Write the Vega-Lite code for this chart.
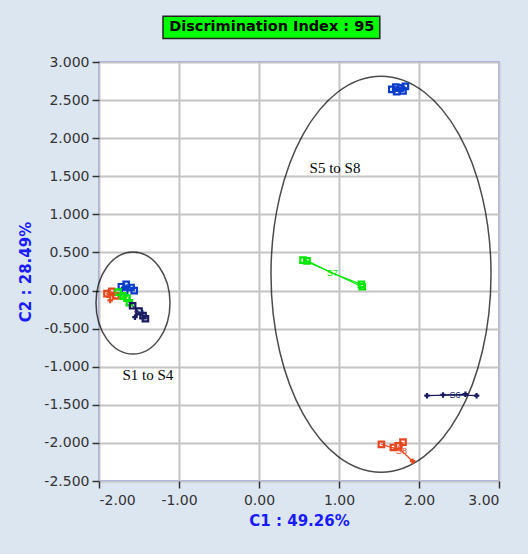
{
  "$schema": "https://vega.github.io/schema/vega-lite/v6.json",
  "width": 400,
  "height": 419,
  "autosize": {"type": "none"},
  "padding": {"left": 99, "top": 62, "right": 29, "bottom": 73},
  "background": "#dce6f1",
  "config": {
    "view": {"fill": "white", "stroke": "#8585ff", "strokeWidth": 1.5},
    "axis": {
      "grid": true, "gridColor": "#c4c4c4", "gridWidth": 2,
      "domain": false, "tickColor": "#333333", "tickSize": 7, "tickWidth": 1.5,
      "labelFont": "DejaVu Sans", "labelFontSize": 14, "labelColor": "#333333", "labelOverlap": false,
      "titleFont": "DejaVu Sans", "titleFontSize": 15, "titleFontWeight": "bold", "titleColor": "#1a1aff"
    }
  },
  "datasets": {
    "pts": [
      {"s": "S1", "x": -1.72, "y": 0.05, "m": "sq"},
      {"s": "S1", "x": -1.66, "y": 0.08, "m": "sq"},
      {"s": "S1", "x": -1.6, "y": 0.04, "m": "sq"},
      {"s": "S1", "x": -1.56, "y": 0.0, "m": "sq"},
      {"s": "S1", "x": -1.68, "y": 0.0, "m": "sq"},
      {"s": "S2", "x": -1.9, "y": -0.04, "m": "sq"},
      {"s": "S2", "x": -1.84, "y": -0.01, "m": "sq"},
      {"s": "S2", "x": -1.79, "y": -0.07, "m": "sq"},
      {"s": "S2", "x": -1.86, "y": -0.13, "m": "plus"},
      {"s": "S3", "x": -1.76, "y": -0.02, "m": "sq"},
      {"s": "S3", "x": -1.7, "y": -0.07, "m": "sq"},
      {"s": "S3", "x": -1.65, "y": -0.1, "m": "sq"},
      {"s": "S3", "x": -1.62, "y": -0.16, "m": "sq"},
      {"s": "S4", "x": -1.58, "y": -0.2, "m": "sq"},
      {"s": "S4", "x": -1.5, "y": -0.27, "m": "sq"},
      {"s": "S4", "x": -1.45, "y": -0.33, "m": "sq"},
      {"s": "S4", "x": -1.42, "y": -0.37, "m": "sq"},
      {"s": "S4", "x": -1.55, "y": -0.35, "m": "plus"},
      {"s": "S5", "x": 1.66, "y": 2.64, "m": "sq"},
      {"s": "S5", "x": 1.71, "y": 2.67, "m": "sq"},
      {"s": "S5", "x": 1.77, "y": 2.66, "m": "sq"},
      {"s": "S5", "x": 1.83, "y": 2.68, "m": "sq"},
      {"s": "S5", "x": 1.72, "y": 2.61, "m": "sq"},
      {"s": "S5", "x": 1.8, "y": 2.62, "m": "sq"},
      {"s": "S6", "x": 2.1, "y": -1.38, "m": "plus"},
      {"s": "S6", "x": 2.3, "y": -1.37, "m": "plus"},
      {"s": "S6", "x": 2.58, "y": -1.36, "m": "plus"},
      {"s": "S6", "x": 2.72, "y": -1.38, "m": "plus"},
      {"s": "S7", "x": 0.55, "y": 0.4, "m": "sq"},
      {"s": "S7", "x": 0.6, "y": 0.39, "m": "sq"},
      {"s": "S7", "x": 1.28, "y": 0.08, "m": "sq"},
      {"s": "S7", "x": 1.29, "y": 0.05, "m": "sq"},
      {"s": "S8", "x": 1.53, "y": -2.02, "m": "sq"},
      {"s": "S8", "x": 1.68, "y": -2.06, "m": "sq"},
      {"s": "S8", "x": 1.74, "y": -2.04, "m": "sq"},
      {"s": "S8", "x": 1.8, "y": -1.99, "m": "sq"},
      {"s": "S8", "x": 1.92, "y": -2.24, "m": "plus"}
    ],
    "cen": [
      {"s": "S1", "cx": -1.65, "cy": 0.03},
      {"s": "S2", "cx": -1.85, "cy": -0.06},
      {"s": "S3", "cx": -1.69, "cy": -0.09},
      {"s": "S4", "cx": -1.5, "cy": -0.3},
      {"s": "S5", "cx": 1.75, "cy": 2.65},
      {"s": "S6", "cx": 2.45, "cy": -1.37},
      {"s": "S7", "cx": 0.92, "cy": 0.23},
      {"s": "S8", "cx": 1.78, "cy": -2.1}
    ]
  },
  "layer": [
    {
      "data": {"values": [{"x": -1.2, "x2": 1.51, "y": 3.6, "y2": 3.31}]},
      "mark": {"type": "rect", "fill": "#00ff00", "stroke": "#222222", "strokeWidth": 1.5},
      "encoding": {
        "x": {"field": "x", "type": "quantitative"},
        "x2": {"field": "x2"},
        "y": {"field": "y", "type": "quantitative"},
        "y2": {"field": "y2"}
      }
    },
    {
      "data": {"values": [{"t": "Discrimination Index : 95", "tx": 0.16, "ty": 3.455}]},
      "mark": {"type": "text", "font": "DejaVu Sans", "fontSize": 14.5, "fontWeight": "bold", "color": "black", "baseline": "middle"},
      "encoding": {
        "x": {"field": "tx", "type": "quantitative"},
        "y": {"field": "ty", "type": "quantitative"},
        "text": {"field": "t"}
      }
    },
    {
      "data": {"values": [{"x": -1.575, "y": -0.164}]},
      "mark": {"type": "point", "filled": false, "stroke": "black", "strokeWidth": 1.5, "size": 10404,
        "shape": "M0.7255,0C0.7255,0.5523,0.4007,1,0,1C-0.4007,1,-0.7255,0.5523,-0.7255,0C-0.7255,-0.5523,-0.4007,-1,0,-1C0.4007,-1,0.7255,-0.5523,0.7255,0Z"},
      "encoding": {
        "x": {"field": "x", "type": "quantitative"},
        "y": {"field": "y", "type": "quantitative"}
      }
    },
    {
      "data": {"values": [{"x": 1.525, "y": 0.215}]},
      "mark": {"type": "point", "filled": false, "stroke": "black", "strokeWidth": 1.5, "size": 156816,
        "shape": "M0.5556,0C0.5556,0.5523,0.3068,1,0,1C-0.3068,1,-0.5556,0.5523,-0.5556,0C-0.5556,-0.5523,-0.3068,-1,0,-1C0.3068,-1,0.5556,-0.5523,0.5556,0Z"},
      "encoding": {
        "x": {"field": "x", "type": "quantitative"},
        "y": {"field": "y", "type": "quantitative"}
      }
    },
    {
      "data": {"values": [{"t": "S5 to S8", "x": 0.95, "y": 1.61}, {"t": "S1 to S4", "x": -1.39, "y": -1.11}]},
      "mark": {"type": "text", "font": "Liberation Serif", "fontSize": 15, "color": "black", "baseline": "middle"},
      "encoding": {
        "x": {"field": "x", "type": "quantitative"},
        "y": {"field": "y", "type": "quantitative"},
        "text": {"field": "t"}
      }
    },
    {
      "data": {"name": "pts"},
      "transform": [{"lookup": "s", "from": {"data": {"name": "cen"}, "key": "s", "fields": ["cx", "cy"]}}],
      "mark": {"type": "rule", "strokeWidth": 1.2},
      "encoding": {
        "x": {"field": "x", "type": "quantitative"},
        "y": {"field": "y", "type": "quantitative"},
        "x2": {"field": "cx"},
        "y2": {"field": "cy"},
        "color": {"field": "s", "type": "nominal", "legend": null,
          "scale": {"domain": ["S1","S2","S3","S4","S5","S6","S7","S8"],
            "range": ["#0a3ccc","#e8461e","#00e600","#1a1a60","#0a3ccc","#1a1a60","#00e600","#e8461e"]}}
      }
    },
    {
      "data": {"name": "pts"},
      "mark": {"type": "point", "filled": false, "strokeWidth": 2.2, "size": 30, "opacity": 1},
      "encoding": {
        "x": {"field": "x", "type": "quantitative", "scale": {"domain": [-2, 3], "nice": false, "zero": false},
          "axis": {"values": [-2, -1, 0, 1, 2, 3], "tickCount": 20, "labelExpr": "replace(format(datum.value, '.2f'), '\u2212', '-')", "title": "C1 : 49.26%", "titlePadding": 6, "labelPadding": 5}},
        "y": {"field": "y", "type": "quantitative", "scale": {"domain": [-2.5, 3], "nice": false, "zero": false},
          "axis": {"values": [-2.5, -2, -1.5, -1, -0.5, 0, 0.5, 1, 1.5, 2, 2.5, 3], "tickCount": 30, "labelExpr": "replace(format(datum.value, '.3f'), '\u2212', '-')", "title": "C2 : 28.49%", "titlePadding": 10, "labelPadding": 3}},
        "shape": {"field": "m", "type": "nominal", "legend": null,
          "scale": {"domain": ["sq", "plus"], "range": ["square", "M-1,0L1,0M0,-1L0,1"]}},
        "color": {"field": "s", "type": "nominal", "legend": null}
      }
    },
    {
      "data": {"name": "cen"},
      "mark": {"type": "text", "font": "Liberation Sans", "fontSize": 9, "baseline": "middle"},
      "encoding": {
        "x": {"field": "cx", "type": "quantitative"},
        "y": {"field": "cy", "type": "quantitative"},
        "text": {"field": "s"},
        "color": {"field": "s", "type": "nominal", "legend": null}
      }
    }
  ]
}
